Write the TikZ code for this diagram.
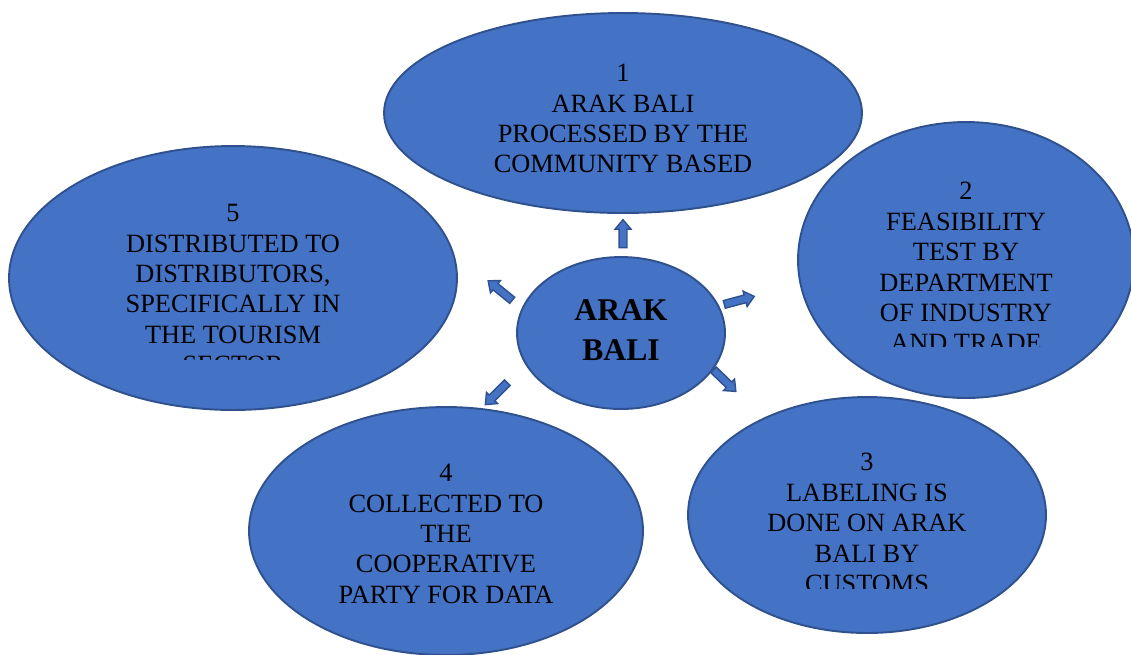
\documentclass[tikz,border=0pt]{standalone}
\usepackage{fontspec}
\setmainfont{Liberation Serif}
\usetikzlibrary{shapes.geometric,shapes.arrows}
\definecolor{bfill}{HTML}{4472C4}
\definecolor{bline}{HTML}{2F528F}
\tikzset{
  bubble/.style={ellipse,draw=bline,fill=bfill,line width=1.1pt,inner sep=0pt},
  btext/.style={anchor=north,align=center,inner sep=0pt,text=black,font=\fontsize{15}{17.3}\selectfont},
  ctext/.style={align=center,inner sep=0pt,text=black,font=\fontsize{18}{22.7}\selectfont\bfseries},
  barrow/.style={single arrow,draw=bline,fill=bfill,line width=0.8pt,inner xsep=0pt,inner ysep=0.065cm,
    single arrow head extend=0.08cm,single arrow tip angle=80,minimum height=0.62cm}
}
\begin{document}
\begin{tikzpicture}[x=0.02cm,y=-0.02cm]
\useasboundingbox (0,0) rectangle (1131,654);
% outer bubbles
\node[bubble,minimum width=9.56cm,minimum height=4.0cm] (e1) at (623,113) {};
\node[bubble,minimum width=6.72cm,minimum height=5.52cm] (e2) at (966,260) {};
\node[bubble,minimum width=7.16cm,minimum height=4.72cm] (e3) at (867,515) {};
\node[bubble,minimum width=7.88cm,minimum height=4.96cm] (e4) at (446,531) {};
\node[bubble,minimum width=8.96cm,minimum height=5.28cm] (e5) at (233,278) {};
% texts
\node[btext] (t1) at (623,64) {1\\ARAK BALI\\PROCESSED BY THE\\COMMUNITY BASED};
\begin{scope}
\clip (800,150) rectangle (1131,346);
\node[btext] (t2) at (966,182) {2\\FEASIBILITY\\TEST BY\\DEPARTMENT\\OF INDUSTRY\\AND TRADE};
\end{scope}
\begin{scope}
\clip (700,430) rectangle (1040,588);
\node[btext] (t3) at (867,453) {3\\LABELING IS\\DONE ON ARAK\\BALI BY\\CUSTOMS};
\end{scope}
\node[btext] (t4) at (446,464) {4\\COLLECTED TO\\THE\\COOPERATIVE\\PARTY FOR DATA};
\begin{scope}
\clip (20,180) rectangle (450,359);
\node[btext] (t5) at (233,204) {5\\DISTRIBUTED TO\\DISTRIBUTORS,\\SPECIFICALLY IN\\THE TOURISM\\SECTOR};
\end{scope}
% center
\node[bubble,minimum width=4.16cm,minimum height=3.04cm] (e0) at (621,333) {};
\node[ctext] (t0) at (621,330) {ARAK\\BALI};
% arrows
\node[barrow,rotate=90,minimum height=0.56cm] (a1) at (623,236) {};
\node[barrow,rotate=141] (a5) at (502,292) {};
\node[barrow,rotate=15] (a2) at (737,301) {};
\node[barrow,rotate=225] (a4) at (498,392) {};
\node[barrow,rotate=-44] (a3) at (723,379) {};
\end{tikzpicture}
\end{document}
